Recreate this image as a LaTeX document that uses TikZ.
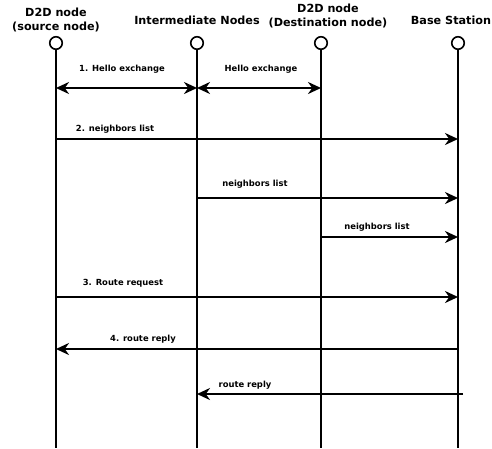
\documentclass[tikz,border=0pt]{standalone}
\usepackage{fontspec}
\setmainfont{DejaVu Sans}
\usetikzlibrary{arrows.meta}
\tikzset{
	life/.style={draw,circle,inner sep=0pt,minimum size=12.5pt,line width=1.6pt},
	head/.style={font=\bfseries\fontsize{11.2}{14.5}\selectfont,align=center,inner sep=0pt},
	msg/.style={line width=2.2pt},
	lbl/.style={font=\bfseries\fontsize{8.4}{10}\selectfont,inner sep=0pt}
}
\begin{document}
\begin{tikzpicture}[x=1pt,y=-1pt,>={Stealth[length=13pt,width=12pt]}]
			\useasboundingbox (0,0) rectangle (492,448);
			% heads of the lifelines
			\node[head] (hsrc) at (56,20) {D2D node\\(source node)};
			\node[head] (hmid) at (197,20) {Intermediate Nodes};
			\node[head] (hdst) at (328,16) {D2D node\\(Destination node)};
			\node[head] (hbs) at (451,20) {Base Station};
			\node[life] (src) at (56,43) {};
			\node[life] (mid) at (197,43) {};
			\node[life] (dst) at (321,43) {};
			\node[life] (bs) at (458,43) {};
			\draw[line width=1.6pt] (src.south) -- (src |- 0,448);
			\draw[line width=1.6pt] (mid.south) -- (mid |- 0,448);
			\draw[line width=1.6pt] (dst.south) -- (dst |- 0,448);
			\draw[line width=1.6pt] (bs.south) -- (bs |- 0,448);
			% messages
			\draw[msg,<->] (src |- 0,88) -- (mid |- 0,88);
			\draw[msg,<->] (mid |- 0,88) -- (dst |- 0,88);
			\draw[msg,->] (src |- 0,139) -- (bs |- 0,139);
			\draw[msg,->] (mid |- 0,198) -- (bs |- 0,198);
			\draw[msg,->] (dst |- 0,237) -- (bs |- 0,237);
			\draw[msg,->] (src |- 0,297) -- (bs |- 0,297);
			\draw[msg,->] (bs |- 0,349) -- (src |- 0,349);
			\coordinate (rr) at (463,394);
			\draw[msg,->] (rr) -- (mid |- rr);
			% labels
			\node[lbl] (l1) at (122,69) {1. Hello exchange};
			\node[lbl] (l2) at (261,69) {Hello exchange};
			\node[lbl] (l3) at (115,129) {2. neighbors list};
			\node[lbl] (l4) at (255,184) {neighbors list};
			\node[lbl] (l5) at (377,227) {neighbors list};
			\node[lbl] (l6) at (123,283) {3. Route request};
			\node[lbl] (l7) at (143,339) {4. route reply};
			\node[lbl] (l8) at (245,385) {route reply};
		\end{tikzpicture}
\end{document}
